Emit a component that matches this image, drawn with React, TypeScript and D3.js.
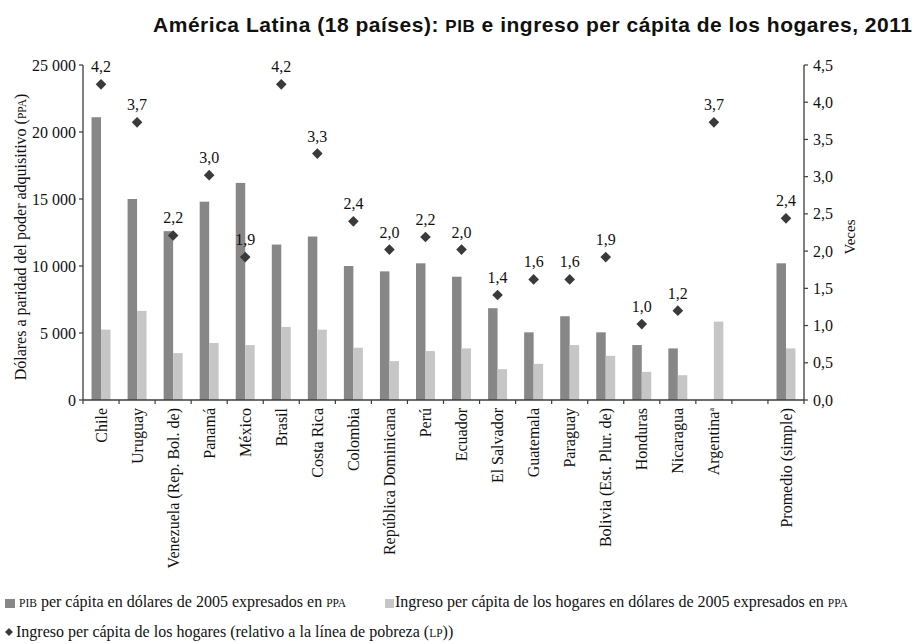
import React from "react";
import * as d3 from "d3";

const categories = [
  "Chile", "Uruguay", "Venezuela (Rep. Bol. de)", "Panamá", "México", "Brasil",
  "Costa Rica", "Colombia", "República Dominicana", "Perú", "Ecuador", "El Salvador",
  "Guatemala", "Paraguay", "Bolivia (Est. Plur. de)", "Honduras", "Nicaragua",
  "Argentina", "", "Promedio (simple)",
];
const pibValues: (number | null)[] = [
  21100, 15000, 12600, 14800, 16200, 11600, 12200, 10000, 9600, 10200, 9200, 6850,
  5050, 6250, 5050, 4100, 3850, null, null, 10200,
];
const ingresoValues: (number | null)[] = [
  5250, 6650, 3500, 4250, 4100, 5450, 5250, 3900, 2900, 3650, 3850, 2300,
  2700, 4100, 3300, 2100, 1850, 5850, null, 3850,
];
const vecesValues: (number | null)[] = [
  4.24, 3.73, 2.21, 3.02, 1.92, 4.24, 3.31, 2.4, 2.02, 2.19, 2.02, 1.41,
  1.62, 1.62, 1.92, 1.02, 1.2, 3.73, null, 2.44,
];
const leftTicks = [0, 5000, 10000, 15000, 20000, 25000];
const rightTicks = [0, 0.5, 1, 1.5, 2, 2.5, 3, 3.5, 4, 4.5];

const W = 914, H = 644;
const M = { left: 83, right: 804, top: 65, bottom: 400 };
const SERIF = "'Liberation Serif', 'Times New Roman', serif";
const SANS = "'Liberation Sans', Arial, sans-serif";
const DARK = "#878787";
const LIGHT = "#c6c6c6";
const MARK = "#3a3a3a";
const AXIS = "#3c3c3c";
const TXT = "#111";

const keys = categories.map((c, i) => `${i}:${c}`);

export default function App() {
  const x = d3.scaleBand<string>().domain(keys).range([M.left, M.right]).padding(0);
  const xs = d3.scaleBand<string>().domain(["pib", "ing"]).range([0, x.bandwidth()]).paddingInner(0).paddingOuter(0.9);
  const yL = d3.scaleLinear().domain([0, 25000]).range([M.bottom, M.top]);
  const yR = d3.scaleLinear().domain([0, 4.5]).range([M.bottom, M.top]);
  const locale = d3.formatLocale({ decimal: ",", thousands: " ", grouping: [3], currency: ["", ""] });
  const fmtL = locale.format(",d");
  const fmtR = locale.format(".1f");
  const diamond = d3.symbol().type(d3.symbolDiamond2).size(72)();
  const legendDiamond = d3.symbol().type(d3.symbolDiamond2).size(40)();
  const boundaries = keys.map((k) => x(k) as number).concat([M.right]);
  const midY = 237;

  return (
    <svg width={W} height={H} style={{ position: "absolute", left: 0, top: 0, background: "#fff" }}>
      <rect x={0} y={0} width={W} height={H} fill="#fff" />
      {/* Title */}
      <text x={153} y={32} textAnchor="start" fontFamily={SANS} fontWeight="bold" fontSize={21} fill={TXT}
        textLength={759} lengthAdjust="spacing">
        América Latina (18 países): <tspan fontSize={17}>PIB</tspan> e ingreso per cápita de los hogares, 2011
      </text>

      {/* Bars */}
      {keys.map((k, i) => (
        <g key={k}>
          {pibValues[i] != null && (
            <rect x={(x(k) as number) + (xs("pib") as number)} y={yL(pibValues[i] as number)}
              width={xs.bandwidth()} height={M.bottom - yL(pibValues[i] as number)} fill={DARK} />
          )}
          {ingresoValues[i] != null && (
            <rect x={(x(k) as number) + (xs("ing") as number)} y={yL(ingresoValues[i] as number)}
              width={xs.bandwidth()} height={M.bottom - yL(ingresoValues[i] as number)} fill={LIGHT} />
          )}
        </g>
      ))}

      {/* Axes */}
      <line x1={M.left} x2={M.left} y1={M.top} y2={M.bottom} stroke={AXIS} strokeWidth={1.3} />
      <line x1={M.right} x2={M.right} y1={M.top} y2={M.bottom} stroke={AXIS} strokeWidth={1.3} />
      <line x1={M.left} x2={M.right} y1={M.bottom} y2={M.bottom} stroke={AXIS} strokeWidth={1.3} />
      {leftTicks.map((t) => (
        <g key={"l" + t}>
          <line x1={M.left - 4} x2={M.left} y1={yL(t)} y2={yL(t)} stroke={AXIS} strokeWidth={1.2} />
          <text x={M.left - 7} y={yL(t)} dy="0.35em" textAnchor="end" fontFamily={SERIF} fontSize={16} fill={TXT}>
            {fmtL(t)}
          </text>
        </g>
      ))}
      {rightTicks.map((t) => (
        <g key={"r" + t}>
          <line x1={M.right} x2={M.right + 4} y1={yR(t)} y2={yR(t)} stroke={AXIS} strokeWidth={1.2} />
          <text x={M.right + 9} y={yR(t)} dy="0.35em" textAnchor="start" fontFamily={SERIF} fontSize={16} fill={TXT}>
            {fmtR(t)}
          </text>
        </g>
      ))}
      {boundaries.map((bx, i) => (
        <line key={"b" + i} x1={bx} x2={bx} y1={M.bottom} y2={M.bottom + 4} stroke={AXIS} strokeWidth={1.2} />
      ))}

      {/* Category labels */}
      {keys.map((k, i) => {
        const cx = (x(k) as number) + x.bandwidth() / 2;
        const isArg = categories[i] === "Argentina";
        return (
          <text key={"c" + k} transform={`translate(${cx},408) rotate(-90)`} dy="0.35em" textAnchor="end"
            fontFamily={SERIF} fontSize={16} fill={TXT}>
            {categories[i]}
            {isArg && <tspan fontSize={8} dy="-0.7em">a</tspan>}
          </text>
        );
      })}

      {/* Diamonds and labels */}
      {keys.map((k, i) => {
        const v = vecesValues[i];
        if (v == null) return null;
        const cx = (x(k) as number) + x.bandwidth() / 2;
        const cy = yR(v);
        return (
          <g key={"d" + k}>
            <path d={diamond as string} transform={`translate(${cx},${cy})`} fill={MARK} />
            <text x={cx} y={cy - 12} textAnchor="middle" fontFamily={SERIF} fontSize={16} fill={TXT}>
              {fmtR(v)}
            </text>
          </g>
        );
      })}

      {/* Axis titles */}
      <text transform={`translate(20,${midY}) rotate(-90)`} dy="0.35em" textAnchor="middle"
        fontFamily={SERIF} fontSize={16} fill={TXT}>
        Dólares a paridad del poder adquisitivo (<tspan fontSize={11.5}>PPA</tspan>)
      </text>
      <text transform={`translate(850,${midY}) rotate(-90)`} dy="0.35em" textAnchor="middle"
        fontFamily={SERIF} fontSize={15} fill={TXT}>
        Veces
      </text>

      {/* Legend */}
      <rect x={5} y={599} width={10} height={9} fill={DARK} />
      <text x={19} y={607} fontFamily={SERIF} fontSize={16} fill={TXT}>
        <tspan fontSize={11.5}>PIB</tspan> per cápita en dólares de 2005 expresados en <tspan fontSize={11.5}>PPA</tspan>
      </text>
      <rect x={385} y={599} width={9} height={9} fill={LIGHT} />
      <text x={395} y={607} fontFamily={SERIF} fontSize={16} fill={TXT}>
        Ingreso per cápita de los hogares en dólares de 2005 expresados en <tspan fontSize={11.5}>PPA</tspan>
      </text>
      <path d={legendDiamond as string} transform="translate(9,632)" fill={MARK} />
      <text x={16} y={637} fontFamily={SERIF} fontSize={16} fill={TXT}>
        Ingreso per cápita de los hogares (relativo a la línea de pobreza (<tspan fontSize={11.5}>LP</tspan>))
      </text>
    </svg>
  );
}
